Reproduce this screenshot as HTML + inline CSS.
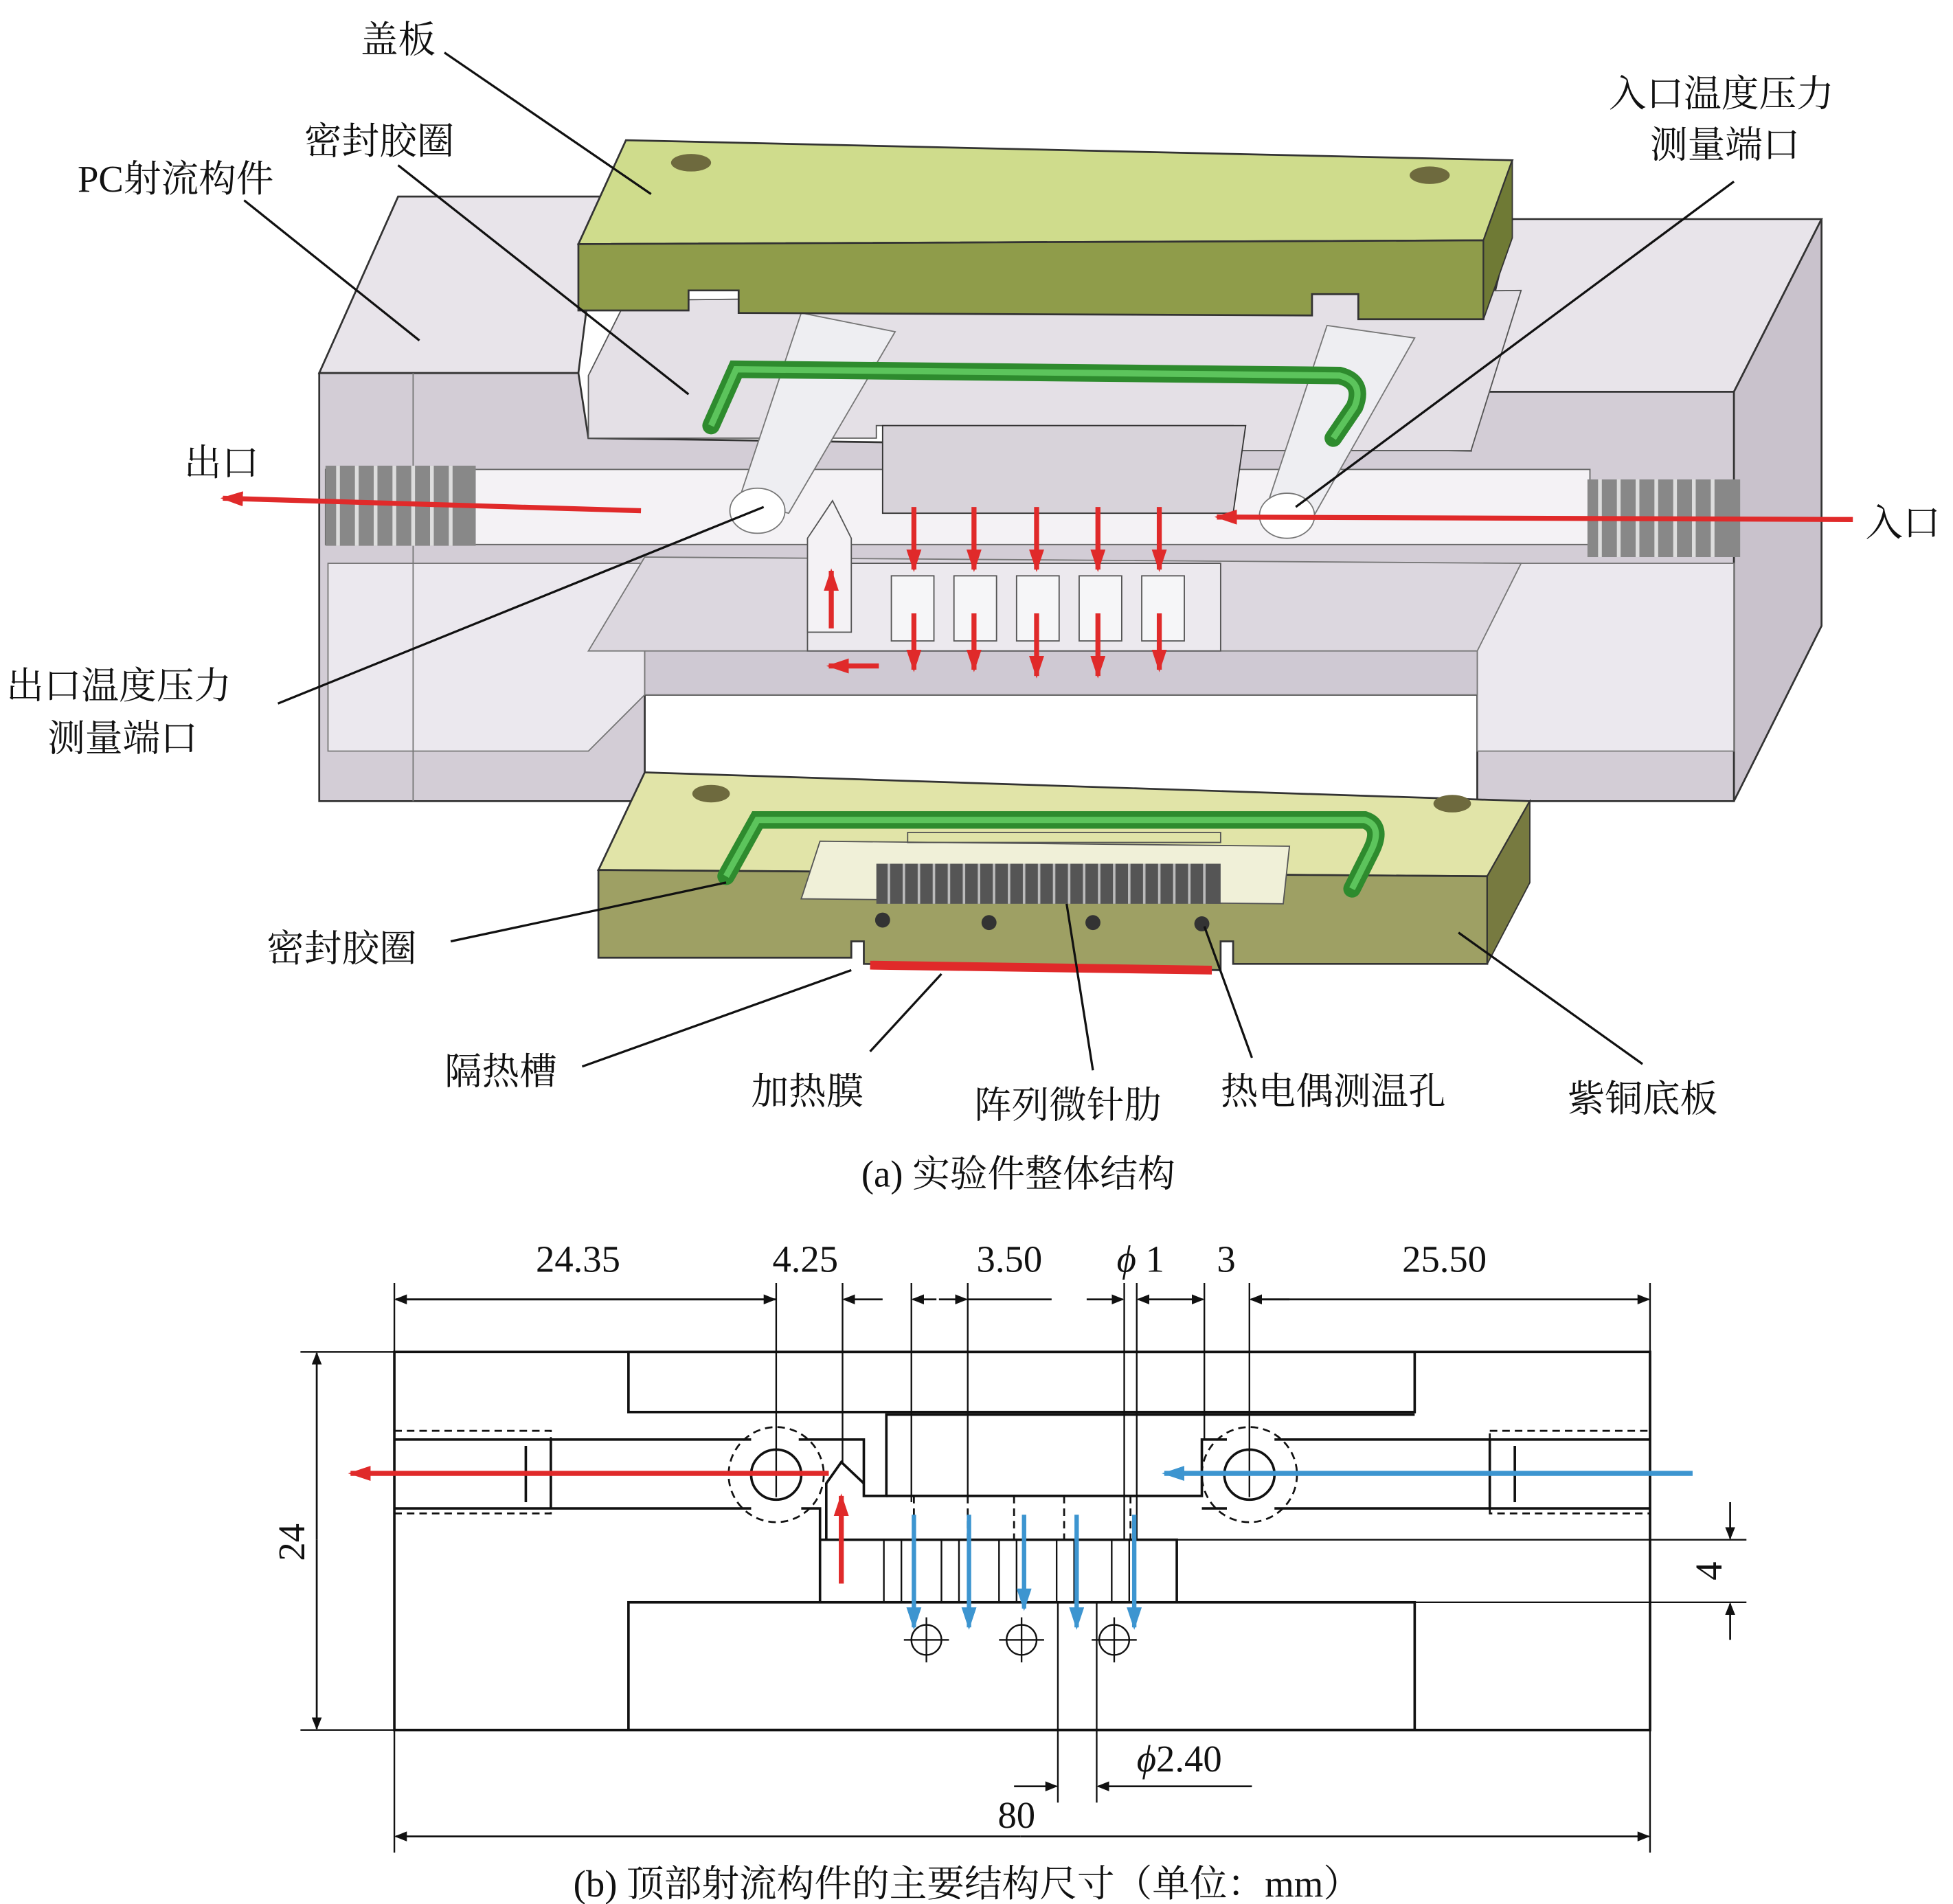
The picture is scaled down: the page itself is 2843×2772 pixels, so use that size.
<!DOCTYPE html>
<html><head><meta charset="utf-8"><style>
html,body{margin:0;padding:0;background:#fff}
svg{display:block}
text{font-family:"Liberation Serif","Noto Serif CJK SC",serif;fill:#111}
</style></head><body>
<svg width="2843" height="2772" viewBox="0 0 1560 1521" preserveAspectRatio="none" xmlns="http://www.w3.org/2000/svg">
<defs>
<marker id="ah" markerWidth="10" markerHeight="8" refX="9" refY="4" orient="auto" markerUnits="userSpaceOnUse"><path d="M0,0 L10,4 L0,8 z" fill="#111"/></marker>
<marker id="ar" markerWidth="18" markerHeight="12" refX="16" refY="6" orient="auto" markerUnits="userSpaceOnUse"><path d="M0,0 L18,6 L0,12 z" fill="#e02a2a"/></marker>
<marker id="ab" markerWidth="18" markerHeight="12" refX="16" refY="6" orient="auto" markerUnits="userSpaceOnUse"><path d="M0,0 L18,6 L0,12 z" fill="#3d95d0"/></marker>
</defs>

<!-- ===== Part (a) ===== -->
<polygon points="255,298 318,157 480,157 462,298" fill="#e8e4ea" stroke="#333" stroke-width="1.5"/>
<polygon points="1208,175 1455,175 1385,313 1175,313" fill="#e8e4ea" stroke="#333" stroke-width="1.5"/>
<polygon points="1385,313 1455,175 1455,500 1385,640" fill="#c9c2cc" stroke="#333" stroke-width="1.5"/>
<path d="M255,298 L462,298 L470,350 L1175,360 L1175,313 L1385,313 L1385,640 L1180,640 L1180,555 L515,555 L515,640 L255,640 Z" fill="#d3cdd6" stroke="#333" stroke-width="1.5"/>
<polygon points="470,300 500,240 1215,232 1175,360 985,360 985,340 700,340 700,350 470,350" fill="#e4e0e6" stroke="#555" stroke-width="1"/>
<polygon points="262,450 515,450 515,555 470,600 262,600" fill="#ebe8ee" stroke="#777" stroke-width="1"/>
<polygon points="1180,450 1385,450 1385,600 1180,600" fill="#ebe8ee" stroke="#777" stroke-width="1"/>
<polygon points="515,450 1180,450 1180,555 515,555" fill="#cfc9d3" stroke="#777" stroke-width="1"/>
<polygon points="470,520 515,445 1215,450 1180,520" fill="#dcd7df" stroke="#777" stroke-width="1"/>
<line x1="330" y1="298" x2="330" y2="640" stroke="#777"/>
<rect x="260" y="375" width="1010" height="60" fill="#f4f2f5" stroke="#666"/>
<rect x="260" y="372" width="120" height="64" fill="#888"/>
<g stroke="#ddd" stroke-width="3"><line x1="270" y1="372" x2="270" y2="436"/><line x1="285" y1="372" x2="285" y2="436"/><line x1="300" y1="372" x2="300" y2="436"/><line x1="315" y1="372" x2="315" y2="436"/><line x1="330" y1="372" x2="330" y2="436"/><line x1="345" y1="372" x2="345" y2="436"/><line x1="360" y1="372" x2="360" y2="436"/></g>
<rect x="1268" y="383" width="122" height="62" fill="#888"/>
<g stroke="#ddd" stroke-width="3"><line x1="1278" y1="383" x2="1278" y2="445"/><line x1="1293" y1="383" x2="1293" y2="445"/><line x1="1308" y1="383" x2="1308" y2="445"/><line x1="1323" y1="383" x2="1323" y2="445"/><line x1="1338" y1="383" x2="1338" y2="445"/><line x1="1353" y1="383" x2="1353" y2="445"/><line x1="1368" y1="383" x2="1368" y2="445"/></g>
<polygon points="705,340 995,340 985,410 705,410" fill="#d8d3da" stroke="#333"/>
<polygon points="680,450 975,450 975,520 645,520 645,450" fill="#ece9ee" stroke="#555"/>
<g fill="#f6f6f8" stroke="#555">
<rect x="712" y="460" width="34" height="52"/><rect x="762" y="460" width="34" height="52"/><rect x="812" y="460" width="34" height="52"/><rect x="862" y="460" width="34" height="52"/><rect x="912" y="460" width="34" height="52"/>
</g>
<polygon points="645,430 665,400 680,430 680,505 645,505" fill="#f4f2f5" stroke="#555"/>
<polygon points="590,400 640,250 715,265 630,410" fill="#eeeef2" stroke="#777"/>
<polygon points="1010,410 1060,260 1130,270 1045,420" fill="#eeeef2" stroke="#777"/>
<ellipse cx="605" cy="408" rx="22" ry="18" fill="#fff" stroke="#777"/>
<ellipse cx="1028" cy="412" rx="22" ry="18" fill="#fff" stroke="#777"/>
<polygon points="500,112 1208,128 1185,192 462,195" fill="#cfdc8c" stroke="#333" stroke-width="1.5"/>
<path d="M462,195 L1185,192 L1185,255 L1085,255 L1085,235 L1048,235 L1048,252 L590,250 L590,232 L550,232 L550,248 L462,248 Z" fill="#8f9c4a" stroke="#333" stroke-width="1.5"/>
<polygon points="1185,192 1208,128 1208,190 1185,255" fill="#6f7a35" stroke="#333"/>
<ellipse cx="552" cy="130" rx="16" ry="7" fill="#6e6a3e"/>
<ellipse cx="1142" cy="140" rx="16" ry="7" fill="#6e6a3e"/>
<path d="M568,340 L588,295 L1070,300 Q1090,305 1082,325 L1065,350" fill="none" stroke="#2e8b2e" stroke-width="14" stroke-linecap="round"/>
<path d="M568,340 L588,295 L1070,300 Q1090,305 1082,325 L1065,350" fill="none" stroke="#5cc45c" stroke-width="5"/>
<polygon points="515,617 1222,640 1188,700 478,695" fill="#e1e4a8" stroke="#333" stroke-width="1.5"/>
<polygon points="478,695 1188,700 1188,770 985,770 985,752 975,752 975,775 690,770 690,752 680,752 680,765 478,765" fill="#9ea064" stroke="#333" stroke-width="1.5"/>
<polygon points="1188,700 1222,640 1222,705 1188,770" fill="#777a40" stroke="#333"/>
<polygon points="655,672 1030,676 1025,722 640,718" fill="#f0f0d8" stroke="#555"/>
<rect x="700" y="690" width="275" height="32" fill="#555"/>
<g stroke="#bbb" stroke-width="2">
<line x1="710" y1="690" x2="710" y2="722"/><line x1="722" y1="690" x2="722" y2="722"/><line x1="734" y1="690" x2="734" y2="722"/><line x1="746" y1="690" x2="746" y2="722"/><line x1="758" y1="690" x2="758" y2="722"/><line x1="770" y1="690" x2="770" y2="722"/><line x1="782" y1="690" x2="782" y2="722"/><line x1="794" y1="690" x2="794" y2="722"/><line x1="806" y1="690" x2="806" y2="722"/><line x1="818" y1="690" x2="818" y2="722"/><line x1="830" y1="690" x2="830" y2="722"/><line x1="842" y1="690" x2="842" y2="722"/><line x1="854" y1="690" x2="854" y2="722"/><line x1="866" y1="690" x2="866" y2="722"/><line x1="878" y1="690" x2="878" y2="722"/><line x1="890" y1="690" x2="890" y2="722"/><line x1="902" y1="690" x2="902" y2="722"/><line x1="914" y1="690" x2="914" y2="722"/><line x1="926" y1="690" x2="926" y2="722"/><line x1="938" y1="690" x2="938" y2="722"/><line x1="950" y1="690" x2="950" y2="722"/><line x1="962" y1="690" x2="962" y2="722"/></g>
<rect x="725" y="665" width="250" height="8" fill="none" stroke="#555"/>
<path d="M580,700 L605,655 L1090,655 Q1105,660 1095,680 L1080,710" fill="none" stroke="#2e8b2e" stroke-width="14" stroke-linecap="round"/>
<path d="M580,700 L605,655 L1090,655 Q1105,660 1095,680 L1080,710" fill="none" stroke="#5cc45c" stroke-width="5"/>
<ellipse cx="568" cy="634" rx="15" ry="7" fill="#6e6a3e"/><ellipse cx="1160" cy="642" rx="15" ry="7" fill="#6e6a3e"/>
<g fill="#333"><circle cx="705" cy="735" r="6"/><circle cx="790" cy="737" r="6"/><circle cx="873" cy="737" r="6"/><circle cx="960" cy="738" r="6"/></g>
<line x1="695" y1="771" x2="968" y2="775" stroke="#e02a2a" stroke-width="7"/>
<g stroke="#e02a2a" stroke-width="4" fill="none">
<line x1="512" y1="408" x2="178" y2="398" marker-end="url(#ar)"/>
<line x1="1480" y1="415" x2="972" y2="413" marker-end="url(#ar)"/>
<line x1="664" y1="502" x2="664" y2="456" marker-end="url(#ar)"/>
<line x1="702" y1="532" x2="662" y2="532" marker-end="url(#ar)"/>
<line x1="730" y1="405" x2="730" y2="455" marker-end="url(#ar)"/><line x1="778" y1="405" x2="778" y2="455" marker-end="url(#ar)"/><line x1="828" y1="405" x2="828" y2="455" marker-end="url(#ar)"/><line x1="877" y1="405" x2="877" y2="455" marker-end="url(#ar)"/><line x1="926" y1="405" x2="926" y2="455" marker-end="url(#ar)"/>
<line x1="730" y1="490" x2="730" y2="535" marker-end="url(#ar)"/><line x1="778" y1="490" x2="778" y2="535" marker-end="url(#ar)"/><line x1="828" y1="490" x2="828" y2="540" marker-end="url(#ar)"/><line x1="877" y1="490" x2="877" y2="540" marker-end="url(#ar)"/><line x1="926" y1="490" x2="926" y2="535" marker-end="url(#ar)"/>
</g>
<g stroke="#111" stroke-width="1.8">
<line x1="355" y1="42" x2="520" y2="155"/>
<line x1="318" y1="132" x2="550" y2="315"/>
<line x1="195" y1="160" x2="335" y2="272"/>
<line x1="1385" y1="145" x2="1035" y2="405"/>
<line x1="222" y1="562" x2="610" y2="405"/>
<line x1="360" y1="752" x2="580" y2="705"/>
<line x1="465" y1="852" x2="680" y2="775"/>
<line x1="695" y1="840" x2="752" y2="778"/>
<line x1="873" y1="855" x2="852" y2="722"/>
<line x1="1000" y1="845" x2="962" y2="740"/>
<line x1="1312" y1="850" x2="1165" y2="745"/>
</g>
<g font-size="30">
<text x="288" y="42">盖板</text>
<text x="243" y="123">密封胶圈</text>
<text x="62" y="153">PC射流构件</text>
<text x="1285" y="85">入口温度压力</text>
<text x="1318" y="126">测量端口</text>
<text x="147" y="380">出口</text>
<text x="1490" y="428">入口</text>
<text x="5" y="558">出口温度压力</text>
<text x="38" y="600">测量端口</text>
<text x="213" y="768">密封胶圈</text>
<text x="355" y="866">隔热槽</text>
<text x="600" y="882">加热膜</text>
<text x="778" y="893">阵列微针肋</text>
<text x="975" y="882">热电偶测温孔</text>
<text x="1252" y="888">紫铜底板</text>
<text x="688" y="948">(a) 实验件整体结构</text>
</g>

<!-- ===== Part (b) ===== -->
<g stroke="#111" stroke-width="2" fill="none">
<rect x="315" y="1080" width="1003" height="302"/>
<rect x="502" y="1080" width="628" height="48"/>
<rect x="502" y="1280" width="628" height="102"/>
<polyline points="315,1150 600,1150"/><polyline points="638,1150 690,1150 690,1195 708,1195 708,1130 1130,1130"/>
<polyline points="708,1195 960,1195 960,1150 980,1150"/>
<polyline points="1018,1150 1318,1150"/>
<polyline points="315,1205 600,1205"/><polyline points="640,1205 655,1205 655,1280"/>
<polyline points="1018,1205 1318,1205"/><polyline points="960,1205 980,1205"/>
<polyline points="655,1230 940,1230 940,1280"/>
<polyline points="440,1150 440,1205"/><polyline points="420,1155 420,1200"/>
<polyline points="1190,1150 1190,1205"/><polyline points="1210,1155 1210,1200"/>
<path d="M660,1230 L660,1185 L672,1168 L690,1185"/>
<circle cx="620" cy="1178" r="20"/><circle cx="998" cy="1178" r="20"/>
</g>
<g stroke="#111" stroke-width="1.5" fill="none" stroke-dasharray="6,4">
<rect x="315" y="1143" width="125" height="66"/><rect x="1190" y="1143" width="128" height="66"/>
<circle cx="620" cy="1178" r="38"/><circle cx="998" cy="1178" r="38"/>
<line x1="730" y1="1195" x2="730" y2="1230"/><line x1="773" y1="1195" x2="773" y2="1230"/><line x1="810" y1="1195" x2="810" y2="1230"/><line x1="850" y1="1195" x2="850" y2="1230"/><line x1="903" y1="1195" x2="903" y2="1230"/>
</g>
<g stroke="#111" stroke-width="1.3">
<line x1="706" y1="1230" x2="706" y2="1280"/><line x1="720" y1="1230" x2="720" y2="1280"/><line x1="752" y1="1230" x2="752" y2="1280"/><line x1="766" y1="1230" x2="766" y2="1280"/><line x1="798" y1="1230" x2="798" y2="1280"/><line x1="812" y1="1230" x2="812" y2="1280"/><line x1="844" y1="1230" x2="844" y2="1280"/><line x1="858" y1="1230" x2="858" y2="1280"/><line x1="888" y1="1230" x2="888" y2="1280"/><line x1="902" y1="1230" x2="902" y2="1280"/>
<line x1="315" y1="1025" x2="315" y2="1080"/><line x1="1318" y1="1025" x2="1318" y2="1080"/>
<line x1="620" y1="1025" x2="620" y2="1160"/><line x1="673" y1="1025" x2="673" y2="1170"/>
<line x1="728" y1="1025" x2="728" y2="1200"/><line x1="773" y1="1025" x2="773" y2="1200"/>
<line x1="898" y1="1025" x2="898" y2="1230"/><line x1="908" y1="1025" x2="908" y2="1230"/>
<line x1="962" y1="1025" x2="962" y2="1150"/><line x1="998" y1="1025" x2="998" y2="1160"/>
<line x1="845" y1="1280" x2="845" y2="1440"/><line x1="876" y1="1280" x2="876" y2="1440"/>
<line x1="240" y1="1080" x2="315" y2="1080"/><line x1="240" y1="1382" x2="315" y2="1382"/>
<line x1="315" y1="1382" x2="315" y2="1480"/><line x1="1318" y1="1382" x2="1318" y2="1480"/>
<line x1="940" y1="1230" x2="1395" y2="1230"/><line x1="1130" y1="1280" x2="1395" y2="1280"/>
<circle cx="740" cy="1310" r="12" fill="none"/><circle cx="816" cy="1310" r="12" fill="none"/><circle cx="890" cy="1310" r="12" fill="none"/>
<line x1="722" y1="1310" x2="758" y2="1310"/><line x1="740" y1="1292" x2="740" y2="1328"/>
<line x1="798" y1="1310" x2="834" y2="1310"/><line x1="816" y1="1292" x2="816" y2="1328"/>
<line x1="872" y1="1310" x2="908" y2="1310"/><line x1="890" y1="1292" x2="890" y2="1328"/>
<line x1="602" y1="1178" x2="638" y2="1178"/><line x1="620" y1="1160" x2="620" y2="1196"/>
<line x1="980" y1="1178" x2="1016" y2="1178"/><line x1="998" y1="1160" x2="998" y2="1196"/>
</g>
<g stroke="#111" stroke-width="1.5" fill="none">
<line x1="620" y1="1038" x2="316" y2="1038" marker-end="url(#ah)"/>
<line x1="316" y1="1038" x2="619" y2="1038" marker-end="url(#ah)"/>
<line x1="705" y1="1038" x2="674" y2="1038" marker-end="url(#ah)"/>
<line x1="748" y1="1038" x2="729" y2="1038" marker-end="url(#ah)"/>
<line x1="750" y1="1038" x2="772" y2="1038" marker-end="url(#ah)"/>
<line x1="773" y1="1038" x2="840" y2="1038"/>
<line x1="868" y1="1038" x2="897" y2="1038" marker-end="url(#ah)"/>
<line x1="935" y1="1038" x2="909" y2="1038" marker-end="url(#ah)"/>
<line x1="935" y1="1038" x2="961" y2="1038" marker-end="url(#ah)"/>
<line x1="1030" y1="1038" x2="999" y2="1038" marker-end="url(#ah)"/>
<line x1="1000" y1="1038" x2="1317" y2="1038" marker-end="url(#ah)"/>
<line x1="253" y1="1230" x2="253" y2="1081" marker-end="url(#ah)"/>
<line x1="253" y1="1230" x2="253" y2="1381" marker-end="url(#ah)"/>
<line x1="1382" y1="1200" x2="1382" y2="1229" marker-end="url(#ah)"/>
<line x1="1382" y1="1310" x2="1382" y2="1281" marker-end="url(#ah)"/>
<line x1="810" y1="1427" x2="844" y2="1427" marker-end="url(#ah)"/>
<line x1="1000" y1="1427" x2="877" y2="1427" marker-end="url(#ah)"/>
<line x1="815" y1="1467" x2="316" y2="1467" marker-end="url(#ah)"/>
<line x1="815" y1="1467" x2="1317" y2="1467" marker-end="url(#ah)"/>
</g>
<g fill="none">
<line x1="662" y1="1177" x2="280" y2="1177" stroke="#e02a2a" stroke-width="4" marker-end="url(#ar)"/>
<line x1="672" y1="1265" x2="672" y2="1195" stroke="#e02a2a" stroke-width="4" marker-end="url(#ar)"/>
<line x1="1352" y1="1177" x2="930" y2="1177" stroke="#3d95d0" stroke-width="4" marker-end="url(#ab)"/>
<g stroke="#3d95d0" stroke-width="3.5">
<line x1="730" y1="1210" x2="730" y2="1300" marker-end="url(#ab)"/><line x1="774" y1="1210" x2="774" y2="1300" marker-end="url(#ab)"/><line x1="818" y1="1210" x2="818" y2="1285" marker-end="url(#ab)"/><line x1="860" y1="1210" x2="860" y2="1300" marker-end="url(#ab)"/><line x1="906" y1="1210" x2="906" y2="1300" marker-end="url(#ab)"/>
</g>
</g>
<g font-size="30">
<text x="428" y="1016">24.35</text>
<text x="617" y="1016">4.25</text>
<text x="780" y="1016">3.50</text>
<text x="892" y="1016"><tspan font-style="italic">ϕ</tspan> 1</text>
<text x="972" y="1016">3</text>
<text x="1120" y="1016">25.50</text>
<text x="908" y="1415"><tspan font-style="italic">ϕ</tspan>2.40</text>
<text x="797" y="1460">80</text>
<text x="243" y="1232" transform="rotate(-90 243 1232)" text-anchor="middle">24</text>
<text x="1375" y="1255" transform="rotate(-90 1375 1255)" text-anchor="middle">4</text>
<text x="458" y="1515">(b) 顶部射流构件的主要结构尺寸（单位：mm）</text>
</g>
</svg>
</body></html>
